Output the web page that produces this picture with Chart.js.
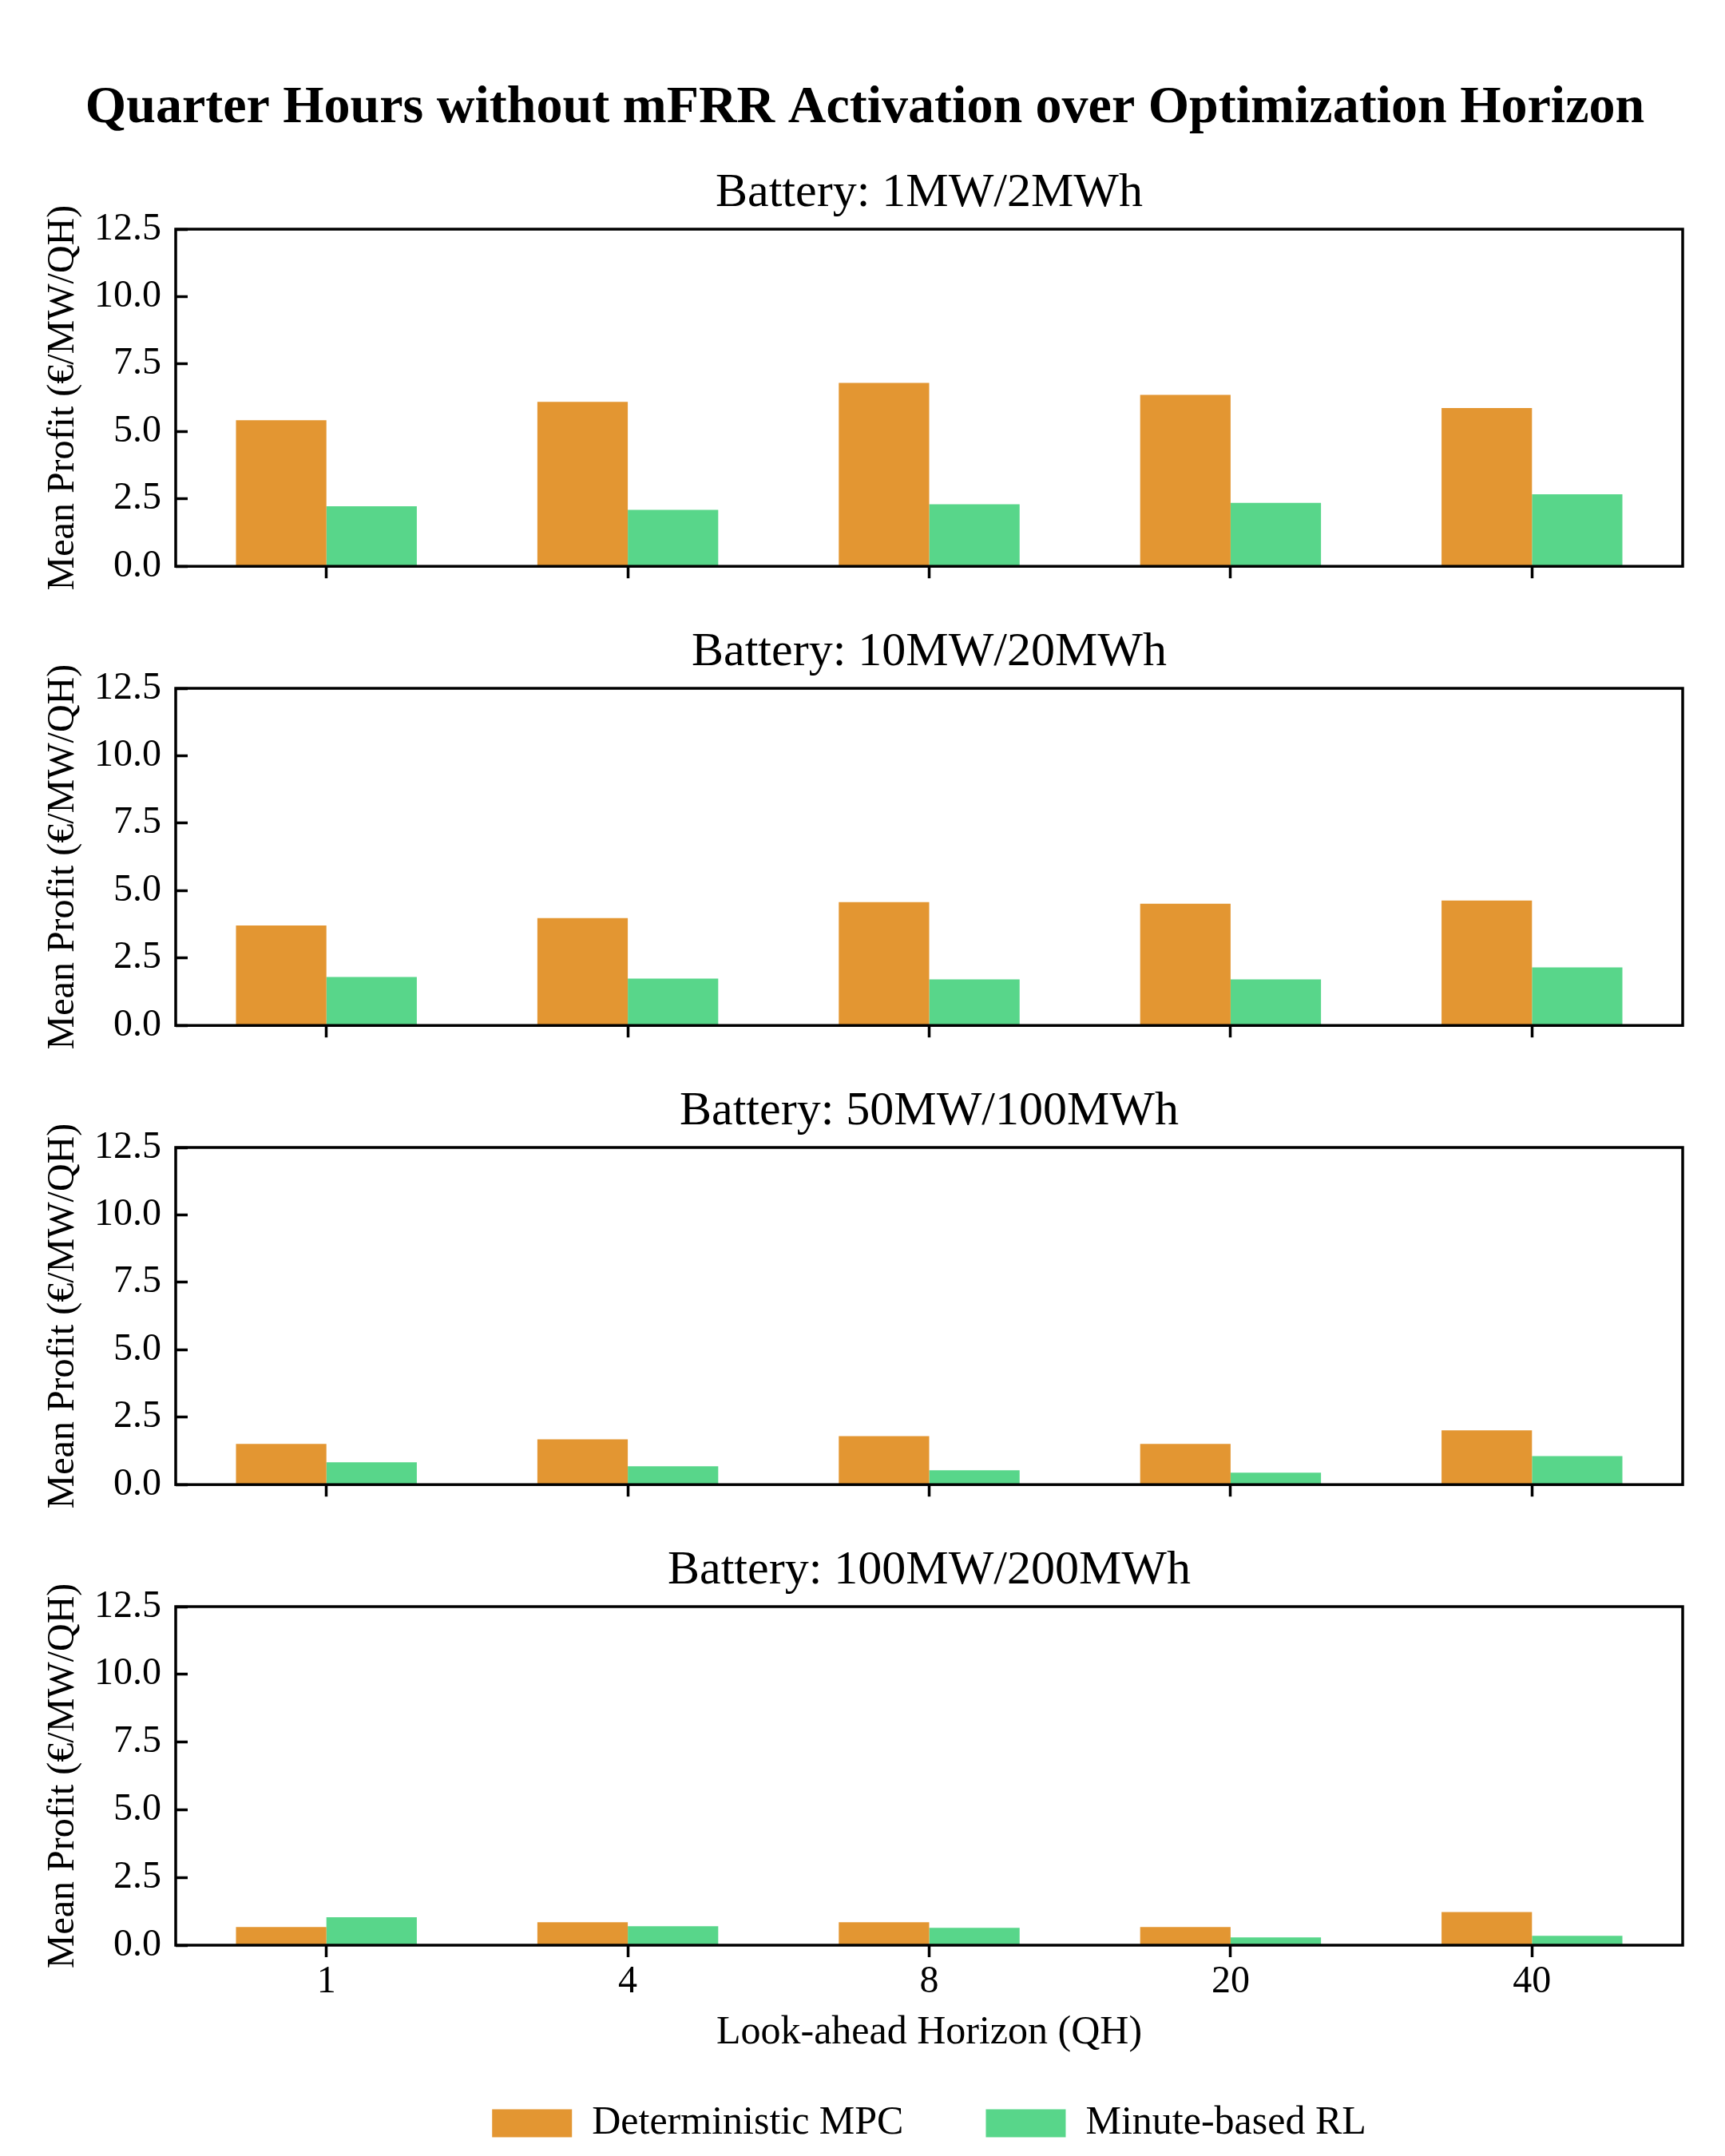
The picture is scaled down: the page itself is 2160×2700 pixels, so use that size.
<!DOCTYPE html>
<html lang="en">
<head>
    <title>Quarter Hours without mFRR Activation over Optimization Horizon</title>
    <meta charset="utf-8">
    <script src="https://cdn.jsdelivr.net/npm/chart.js@4.4.0/dist/chart.umd.js"></script>
    <style>
        html, body { margin: 0; padding: 0; background: #fff; }
        body { width: 2160px; height: 2700px; position: relative; overflow: hidden; }
        .panel { position: absolute; left: 0; width: 2160px; }
    </style>
</head>

<body>
    <div class="panel" style="top:0px;height:771px"><canvas id="panel0"></canvas></div>
    <div class="panel" style="top:781px;height:565px"><canvas id="panel1"></canvas></div>
    <div class="panel" style="top:1356px;height:565px"><canvas id="panel2"></canvas></div>
    <div class="panel" style="top:1931px;height:769px"><canvas id="panel3"></canvas></div>

    <script>
        // Data
        const horizons = ['1', '4', '8', '20', '40'];
        const batteries = ['1MW/2MWh', '10MW/20MWh', '50MW/100MWh', '100MW/200MWh'];
        const mpc1 = [5.42, 6.10, 6.80, 6.36, 5.87];
        const rl1  = [2.23, 2.09, 2.30, 2.35, 2.67];
        const mpc2 = [3.71, 3.98, 4.57, 4.51, 4.63];
        const rl2  = [1.80, 1.74, 1.71, 1.71, 2.15];
        const mpc3 = [1.51, 1.68, 1.80, 1.51, 2.01];
        const rl3  = [0.83, 0.68, 0.53, 0.44, 1.06];
        const mpc4 = [0.67, 0.85, 0.85, 0.67, 1.22];
        const rl4  = [1.03, 0.70, 0.64, 0.29, 0.35];
        const yTicks = [0, 2.5, 5, 7.5, 10, 12.5];

        const mainTitle = 'Quarter Hours without mFRR Activation over Optimization Horizon';
        const orange = '#E39632';
        const green = '#58D68A';

        Chart.defaults.font.family = "'Liberation Serif', 'Times New Roman', serif";
        Chart.defaults.color = '#000';

        // box round the plot area, like the matplotlib spines
        const frame = {
            id: 'frame',
            afterDatasetsDraw(chart) {
                const { ctx, chartArea: a } = chart;
                ctx.save();
                ctx.strokeStyle = '#000';
                ctx.lineWidth = 3.5;
                ctx.strokeRect(a.left, a.top, a.right - a.left, a.bottom - a.top);
                ctx.restore();
            }
        };

        function makePanel(i, mpc, rl) {
            const first = i === 0;
            const last = i === 3;
            const subtitle = 'Battery: ' + batteries[i];
            const panelTitle = { display: true, text: subtitle, fullSize: false,
                font: { size: 60, weight: 'normal' }, padding: { top: 0, bottom: 9 } };

            new Chart(document.getElementById('panel' + i), {
                type: 'bar',
                data: {
                    labels: horizons,
                    datasets: [
                        { label: 'Deterministic MPC', data: mpc, backgroundColor: orange,
                          borderColor: orange, borderWidth: 0, categoryPercentage: 0.6, barPercentage: 1.0 },
                        { label: 'Minute-based RL', data: rl, backgroundColor: green,
                          borderColor: green, borderWidth: 0, categoryPercentage: 0.6, barPercentage: 1.0 },
                    ],
                },
                options: {
                    responsive: true,
                    maintainAspectRatio: false,
                    animation: false,
                    devicePixelRatio: 1,
                    layout: { padding: { left: 59, right: 53, top: 0, bottom: last ? 6 : 30 } },
                    plugins: {
                        title: first
                            ? { display: true, text: mainTitle, font: { size: 66, weight: 'bold' },
                                padding: { top: 96, bottom: 30.8 } }
                            : panelTitle,
                        subtitle: first ? panelTitle : { display: false },
                        legend: last
                            ? { display: true, position: 'bottom', fullSize: false,
                                labels: { boxWidth: 100, boxHeight: 35, padding: 103, font: { size: 50 } } }
                            : { display: false },
                        tooltip: { enabled: false },
                    },
                    scales: {
                        x: {
                            offset: true,
                            grid: { drawOnChartArea: false, offset: false, tickLength: 15,
                                    tickWidth: 3.5, tickColor: '#000' },
                            border: { display: false },
                            ticks: { display: last, font: { size: 48 }, padding: 3, maxRotation: 0, autoSkip: false },
                            title: { display: last, text: 'Look-ahead Horizon (QH)', font: { size: 50 },
                                     padding: { top: 0, bottom: -45 } },
                            afterFit: s => { s.height = last ? 95 : 30; },
                        },
                        y: {
                            min: 0,
                            max: 12.5,
                            afterBuildTicks: s => { s.ticks = yTicks.map(v => ({ value: v })); },
                            grid: { drawOnChartArea: false, tickLength: -15, tickWidth: 3.5, tickColor: '#000' },
                            border: { display: false },
                            ticks: { font: { size: 48 }, padding: 33, callback: v => v.toFixed(1) },
                            title: { display: true, text: 'Mean Profit (€/MW/QH)', font: { size: 48 },
                                     padding: { top: -8, bottom: 0 } },
                            afterFit: s => { s.width = 161; },
                        },
                    },
                },
                plugins: [frame],
            });
        }

        makePanel(0, mpc1, rl1);
        makePanel(1, mpc2, rl2);
        makePanel(2, mpc3, rl3);
        makePanel(3, mpc4, rl4);
    </script>
</body>
</html>
